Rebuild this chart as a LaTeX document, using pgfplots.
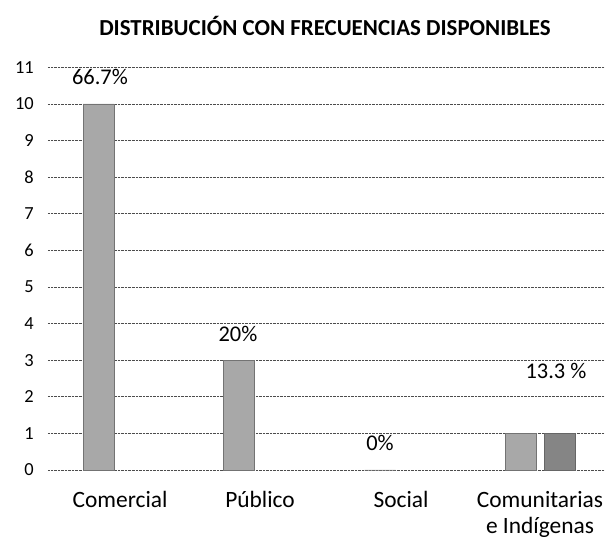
\documentclass[border=0pt]{standalone}
\usepackage{pgfplots}
\pgfplotsset{compat=1.18}
\usepackage{fontspec}
\setmainfont{Carlito}
\definecolor{barA}{HTML}{A8A8A8}
\definecolor{barB}{HTML}{858585}
\begin{document}
\begin{tikzpicture}[x=1bp,y=1bp]
\begin{axis}[
  at={(0,0)}, anchor=south west,
  scale only axis, width=557bp, height=402.6bp,
  xmin=48, xmax=605, ymin=0, ymax=11,
  axis line style={draw=none},
  major tick length=0pt,
  ytick={0,1,...,11},
  ymajorgrids,
  major grid style={densely dotted, black!70, line width=0.6pt},
  xtick={120,260,401,540},
  xticklabels={Comercial,Público,Social,{Comunitarias\\e Indígenas}},
  xticklabel style={align=center, font=\fontsize{23.5}{26.5}\selectfont, anchor=north, inner sep=0pt, yshift=-21bp},
  yticklabel style={font=\fontsize{18.5}{21}\selectfont, anchor=east, inner sep=0pt, xshift=-14bp},
  /pgf/number format/assume math mode=true,
  clip=false,
]
\addplot[ybar, bar width=31, bar shift=0pt, fill=barA, draw=black!55, line width=0.4pt] coordinates {(98.5,10) (238.5,3) (380,0) (521,1)};
\addplot[ybar, bar width=31, bar shift=0pt, fill=barB, draw=black!60, line width=0.4pt] coordinates {(559.5,1)};
\node[anchor=base, font=\fontsize{22.5}{26}\selectfont] at (axis cs:100,10.52) {66.7\%};
\node[anchor=base, font=\fontsize{22.5}{26}\selectfont] at (axis cs:238,3.505) {20\%};
\node[anchor=base, font=\fontsize{22.5}{26}\selectfont] at (axis cs:380,0.546) {0\%};
\node[anchor=base, font=\fontsize{22.5}{26}\selectfont] at (axis cs:556,2.505) {13.3 \%};
\end{axis}
\node[anchor=base, font=\bfseries\fontsize{23}{27}\selectfont] at (277,434) {DISTRIBUCIÓN CON FRECUENCIAS DISPONIBLES};
\pgfresetboundingbox
\path (-48,-70) rectangle (557,470);
\end{tikzpicture}
\end{document}
